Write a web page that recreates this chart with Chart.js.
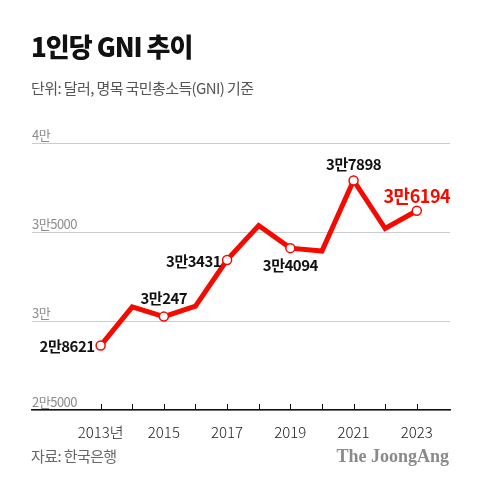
<!DOCTYPE html>
<html>
<head>
<meta charset="utf-8">
<script src="https://cdn.jsdelivr.net/npm/chart.js@4.4.1/dist/chart.umd.min.js"></script>
<style>
html, body { margin: 0; padding: 0; background: #fff; }
</style>
</head>
<body>
<canvas id="canvas" width="480" height="484"></canvas>
<script>
// 데이터 (단위: 달러)
var years = [2013, 2014, 2015, 2016, 2017, 2018, 2019, 2020, 2021, 2022, 2023];
var gni = [28621, 30798, 30247, 30839, 33431, 35368, 34094, 33929, 37898, 35194, 36194];
var pointLabels = ['2만8621', '', '3만247', '', '3만3431', '', '3만4094', '', '3만7898', '', '3만6194'];
var xTickLabels = ['2013년', '', '2015', '', '2017', '', '2019', '', '2021', '', '2023'];
var yTickValues = [25000, 30000, 35000, 40000];
var yTickLabels = ['2만5000', '3만', '3만5000', '4만'];

var RED = '#f50a00';
var FONT = '"Noto Sans CJK KR", "Noto Sans", sans-serif';

/**
 * 제목, 부제, 출처 등 차트 바깥 글자
 */
var textPlugin = {
    id: 'texts',
    afterDraw: function (chart) {
        var ctx = chart.ctx;
        ctx.save();
        ctx.textAlign = 'left';
        ctx.textBaseline = 'alphabetic';
        ctx.fillStyle = '#111';
        ctx.font = '900 26px ' + FONT;
        ctx.letterSpacing = '-1px';
        ctx.fillText('1인당 GNI 추이', 31, 57);

        ctx.fillStyle = '#555';
        ctx.font = '15px ' + FONT;
        ctx.letterSpacing = '-0.6px';
        ctx.fillText('단위: 달러, 명목 국민총소득(GNI) 기준', 31, 94);

        ctx.fillStyle = '#666';
        ctx.font = '15px ' + FONT;
        ctx.letterSpacing = '-0.6px';
        ctx.fillText('자료: 한국은행', 31, 462);

        ctx.letterSpacing = '0px';
        ctx.textAlign = 'right';
        ctx.fillStyle = '#8a8a8a';
        ctx.font = 'bold 18px "Liberation Serif", serif';
        ctx.fillText('The JoongAng', 449, 462);
        ctx.restore();
    }
};

/**
 * y축 눈금 글자(선 위쪽), x축 눈금선(축 위쪽)
 */
var axisPlugin = {
    id: 'axisMarks',
    afterDatasetsDraw: function (chart) {
        var ctx = chart.ctx;
        var area = chart.chartArea;
        var xs = chart.scales.x;
        var ys = chart.scales.y;
        ctx.save();
        ctx.fillStyle = '#8c8c8c';
        ctx.font = '13px ' + FONT;
        ctx.letterSpacing = '-0.5px';
        ctx.textAlign = 'left';
        ctx.textBaseline = 'bottom';
        yTickValues.forEach(function (v, i) {
            ctx.fillText(yTickLabels[i], area.left, ys.getPixelForValue(v) - 1);
        });
        ctx.strokeStyle = '#111';
        ctx.lineWidth = 1;
        years.forEach(function (yr) {
            var x = Math.round(xs.getPixelForValue(yr)) + 0.5;
            ctx.beginPath();
            ctx.moveTo(x, area.bottom);
            ctx.lineTo(x, area.bottom - 6);
            ctx.stroke();
        });
        ctx.restore();
    }
};

/**
 * 데이터 포인트 값 표시
 */
var labelPlace = { 0: ['left', 6], 2: ['above', 18], 4: ['left', 6], 6: ['below', 17], 8: ['above', 16], 10: ['above', 15] };
var labelPlugin = {
    id: 'valueLabels',
    afterDatasetsDraw: function (chart) {
        var ctx = chart.ctx;
        var meta = chart.getDatasetMeta(0);
        ctx.save();
        ctx.textBaseline = 'middle';
        pointLabels.forEach(function (txt, i) {
            if (!txt) return;
            var pt = meta.data[i];
            var place = labelPlace[i];
            var last = i === pointLabels.length - 1;
            ctx.fillStyle = last ? RED : '#111';
            ctx.font = 'bold ' + (last ? 18 : 15) + 'px ' + FONT;
            ctx.letterSpacing = '-0.5px';
            if (place[0] === 'left') {
                ctx.textAlign = 'right';
                ctx.fillText(txt, pt.x - place[1], pt.y + 1);
            } else if (place[0] === 'above') {
                ctx.textAlign = 'center';
                ctx.fillText(txt, pt.x, pt.y - place[1]);
            } else {
                ctx.textAlign = 'center';
                ctx.fillText(txt, pt.x, pt.y + place[1]);
            }
        });
        ctx.restore();
    }
};

var chart = new Chart(document.getElementById('canvas'), {
    type: 'line',
    data: {
        datasets: [{
            data: years.map(function (yr, i) { return { x: yr, y: gni[i] }; }),
            borderColor: RED,
            borderWidth: 5,
            borderJoinStyle: 'miter',
            pointRadius: pointLabels.map(function (t) { return t ? 4.5 : 0; }),
            pointBackgroundColor: '#fff',
            pointBorderColor: RED,
            pointBorderWidth: 1.5,
            tension: 0,
            clip: false
        }]
    },
    options: {
        responsive: false,
        animation: false,
        devicePixelRatio: 1,
        layout: { padding: { left: 32, right: 30, top: 143, bottom: 0 } },
        plugins: {
            legend: { display: false },
            tooltip: { enabled: false }
        },
        scales: {
            x: {
                type: 'linear',
                min: 2010.83,
                max: 2024.05,
                afterBuildTicks: function (scale) {
                    scale.ticks = years.map(function (yr) { return { value: yr }; });
                },
                afterFit: function (scale) { scale.height = 74; },
                grid: { display: false },
                border: { display: true, color: '#111', width: 1.5 },
                ticks: {
                    autoSkip: false,
                    maxRotation: 0,
                    padding: 5,
                    color: '#222',
                    font: { family: FONT, size: 15, weight: 300 },
                    callback: function (v) {
                        var i = years.indexOf(v);
                        return i >= 0 ? xTickLabels[i] : '';
                    }
                }
            },
            y: {
                min: 25000,
                max: 40000,
                afterBuildTicks: function (scale) {
                    scale.ticks = yTickValues.map(function (v) { return { value: v }; });
                },
                afterFit: function (scale) { scale.width = 0; },
                border: { display: false },
                grid: { color: '#cccccc', lineWidth: 1, drawTicks: false },
                ticks: { display: false }
            }
        }
    },
    plugins: [textPlugin, axisPlugin, labelPlugin]
});
</script>
</body>
</html>
